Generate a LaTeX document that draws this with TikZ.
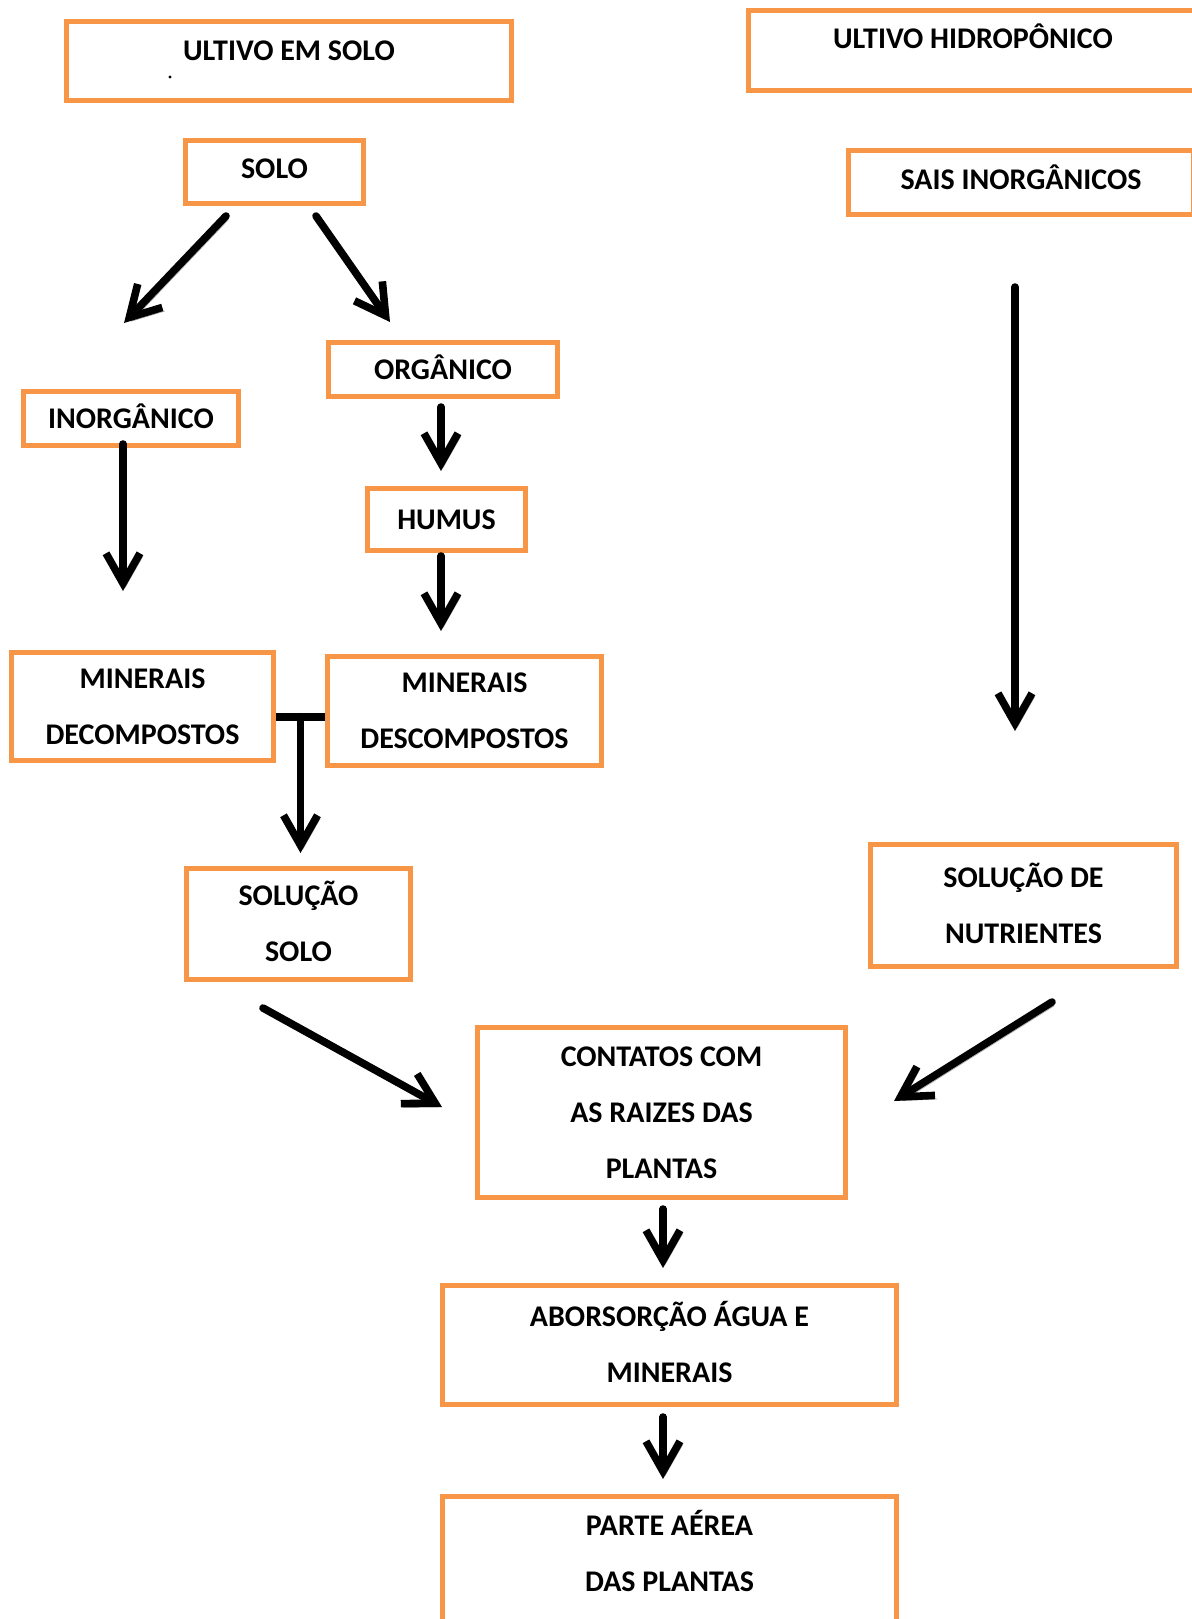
\documentclass[tikz,border=0pt]{standalone}
\usepackage{fontspec}
\setmainfont{Carlito}
\usetikzlibrary{arrows.meta,calc}
\definecolor{orangebord}{HTML}{F79646}

\begin{document}
\begin{tikzpicture}[x=0.5pt,y=-0.5pt,
	boite/.style={draw=orangebord,line width=2.5pt,align=center,inner sep=0pt,
		font=\fontsize{15}{28}\selectfont\bfseries,text height=9.7pt,text depth=0pt},
	deuxl/.style={text height=37.7pt,text depth=0pt},
	troisl/.style={text height=65.7pt,text depth=0pt},
	fleche/.style={-{Straight Barb[length=15pt,width=17pt]},line width=3.8pt,line cap=round,line join=round,
		preaction={draw=gray!65,transform canvas={shift={(1.2pt,-1.8pt)}}}},
	barre/.style={line width=3.8pt,
		preaction={draw=gray!65,transform canvas={shift={(1.2pt,-1.8pt)}}}}]
			\useasboundingbox (0,0) rectangle (1192,1619);
			%boites du haut
			\node[boite,minimum width=222.5pt,minimum height=39.5pt,text depth=10pt] (cultsolo) at (289,61) {ULTIVO EM SOLO};
			\fill (170,77) circle (0.8pt);
			\node[boite,minimum width=225pt,minimum height=40pt,text depth=11.5pt] (culthidro) at (973,50.5) {ULTIVO HIDROPÔNICO};
			\node[boite,minimum width=89pt,minimum height=31.5pt,text depth=3pt] (solo) at (274.5,172) {SOLO};
			\node[boite,minimum width=172.5pt,minimum height=32pt,text depth=3pt] (sais) at (1021,182.5) {SAIS INORGÂNICOS};
			%branche sol
			\node[boite,minimum width=114.5pt,minimum height=27pt] (org) at (443,369.5) {ORGÂNICO};
			\node[boite,minimum width=107.5pt,minimum height=27pt] (inorg) at (131,418.5) {INORGÂNICO};
			\node[boite,minimum width=79pt,minimum height=31pt] (humus) at (446.5,519.5) {HUMUS};
			\node[boite,deuxl,minimum width=131pt,minimum height=54pt] (mindec) at (142.5,706.5) {MINERAIS\\DECOMPOSTOS};
			\node[boite,deuxl,minimum width=137pt,minimum height=54.5pt] (mindesc) at (464.5,711) {MINERAIS\\DESCOMPOSTOS};
			\node[boite,deuxl,minimum width=112pt,minimum height=55.5pt] (solsolo) at (298.5,924) {SOLUÇÃO\\SOLO};
			\node[boite,deuxl,minimum width=153pt,minimum height=61pt] (solnut) at (1023.5,905.5) {SOLUÇÃO DE\\NUTRIENTES};
			%plante
			\node[boite,troisl,minimum width=184pt,minimum height=85pt] (contact) at (661.5,1112.5) {CONTATOS COM\\AS RAIZES DAS\\PLANTAS};
			\node[boite,deuxl,minimum width=227pt,minimum height=59.5pt] (absor) at (669.5,1345) {ABORSORÇÃO ÁGUA E\\MINERAIS};
			\node[boite,text height=37.7pt,text depth=23pt,minimum width=227pt,minimum height=80pt] (aerienne) at (669.5,1576.5) {PARTE AÉREA\\DAS PLANTAS};
			%fleches
			\draw[fleche] ($(solo.south)+(-48.5,10)$) -- ($(inorg.north)+(-7,-66)$);
			\draw[fleche] ($(solo.south)+(41.5,10)$) -- ($(org.north)+(-53,-18)$);
			\draw[fleche] ($(inorg.south)+(-8,-4)$) -- ($(mindec.north)+(-19.5,-59)$);
			\draw[fleche] ($(org.south)+(-2,8)$) -- ($(humus.north)+(-5.5,-15)$);
			\draw[fleche] ($(humus.south)+(-5.5,3)$) -- ($(mindesc.north)+(-23.5,-23)$);
			\coordinate (jonction) at ($(mindec.east)!0.5!(mindesc.west)+(0,8)$);
			\draw[fleche] (jonction) -- ($(solsolo.north)+(2,-13)$);
			\draw[barre] ($(mindec.east)+(0,10.5)$) -- ($(mindesc.west)+(0,6)$);
			\draw[fleche] ($(sais.south)+(-6,70)$) -- ($(solnut.north)+(-8.5,-111)$);
			\draw[fleche] ($(solsolo.south)+(-35.5,26)$) -- ($(contact.west)+(-33,-5.5)$);
			\draw[fleche] ($(solnut.south)+(28.5,33)$) -- ($(contact.east)+(46,-11.5)$);
			\draw[fleche] ($(contact.south)+(1.5,9)$) -- ($(absor.north)+(-6.5,-15)$);
			\draw[fleche] ($(absor.south)+(-6.5,10)$) -- ($(aerienne.north)+(-6.5,-15)$);
\end{tikzpicture}
\end{document}
